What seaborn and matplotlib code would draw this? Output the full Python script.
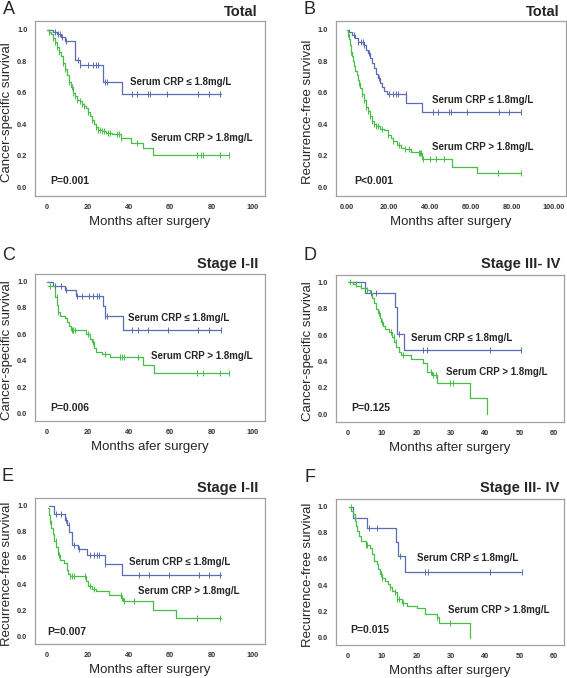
import numpy as np
import pandas as pd
import matplotlib
matplotlib.use('Agg')
import matplotlib.pyplot as plt
import seaborn as sns

# ---- data (step times, survival after the step, censor times)
# A: cancer-specific survival, total
A_low_t = [0, 3, 5, 7, 9, 14, 16, 27.5, 36.5, 84.5]
A_low_s = [1.0, 0.985, 0.97, 0.955, 0.925, 0.81, 0.775, 0.67, 0.59, 0.59]
A_low_c = [4, 5.6, 6.5, 7.3, 9.2, 15.1, 16.2, 20.2, 22.7, 23.8, 24.8, 28.3, 29.2,
           41.3, 43.8, 49.4, 50.2, 58.6, 73.7, 78.6, 84.3]
A_high_t = [0, 1, 2, 3, 4, 5, 6, 7, 8, 9, 10, 11, 12, 13, 14, 15, 16, 17, 18, 19, 20,
            21, 22, 23, 24, 25, 27, 29, 32, 36, 41, 47, 51.5, 88.5]
A_high_s = [1.0, 0.985, 0.97, 0.95, 0.92, 0.89, 0.86, 0.83, 0.79, 0.75, 0.71, 0.67,
            0.635, 0.60, 0.58, 0.555, 0.545, 0.53, 0.515, 0.50, 0.475, 0.45, 0.425,
            0.40, 0.38, 0.365, 0.355, 0.345, 0.335, 0.31, 0.28, 0.25, 0.205, 0.205]
A_high_c = [1, 3, 4, 5, 6, 8, 9, 11, 12.5, 13, 14, 15, 16, 17, 18, 20, 22, 24, 25, 26,
            27, 28, 30, 31, 34, 35, 36, 44, 73, 75, 76, 84, 88.5]

# B: recurrence-free survival, total
B_low_t = [0, 1, 2.5, 4, 5, 8, 9, 10, 11, 12, 13, 14, 15, 16, 17, 18, 19.5, 28.5, 36.5, 84.5]
B_low_s = [1.0, 0.985, 0.965, 0.945, 0.92, 0.90, 0.87, 0.85, 0.82, 0.79, 0.755, 0.72,
           0.69, 0.66, 0.635, 0.61, 0.59, 0.535, 0.475, 0.475]
B_low_c = [3.4, 5.0, 6.6, 7.5, 8.2, 10.7, 15.5, 20.3, 22, 23.6, 24.4, 28.4, 41.4, 43.8,
           49.4, 50.2, 58.3, 73.6, 78.5, 84.2]
B_high_t = [0, 0.5, 1, 1.5, 2, 2.5, 3, 3.5, 4, 4.5, 5, 5.5, 6, 7, 8, 9, 10, 11, 12, 13,
            14, 16, 18, 20, 21, 22, 24, 26, 28, 31, 35, 36.5, 51, 63, 84.5]
B_high_s = [1.0, 0.97, 0.94, 0.90, 0.86, 0.83, 0.80, 0.77, 0.74, 0.71, 0.68, 0.66, 0.63,
            0.59, 0.55, 0.51, 0.48, 0.45, 0.42, 0.40, 0.385, 0.37, 0.36, 0.33, 0.31,
            0.29, 0.27, 0.25, 0.24, 0.225, 0.215, 0.175, 0.13, 0.09, 0.09]
B_high_c = [0.5, 2, 5.5, 7, 8, 9, 10, 11, 12, 13, 14, 15, 17, 20, 22, 25, 28, 30, 35,
            35.5, 36, 37, 40, 43, 47, 73, 84.5]

# C: cancer-specific survival, stage I-II
C_low_t = [0, 3, 9, 14.5, 27.5, 28.5, 37, 84.5]
C_low_s = [1.0, 0.965, 0.935, 0.89, 0.815, 0.74, 0.635, 0.635]
C_low_c = [4, 7, 9.2, 14.9, 17, 20.7, 22.7, 24.3, 25.4, 28.5, 29.2, 41.5, 44.2, 49.4,
           58.8, 73.7, 79, 84.5]
C_high_t = [0.5, 4, 5, 5.5, 6.5, 9, 10, 11, 12, 19, 21, 22, 23, 24, 27, 31, 47, 52, 88.5]
C_high_s = [0.965, 0.88, 0.82, 0.77, 0.74, 0.72, 0.69, 0.66, 0.63, 0.60, 0.565, 0.54,
            0.50, 0.465, 0.45, 0.425, 0.37, 0.31, 0.31]
C_high_c = [1.6, 4.9, 5.6, 12.2, 12.9, 13.8, 20.2, 22.7, 28.3, 35.6, 36.8, 37.7, 44.5,
            72.9, 76.1, 84, 88.3]

# D: cancer-specific survival, stage III-IV
D_low_t = [0.5, 5.1, 13.8, 14.4, 16.4, 50.5]
D_low_s = [1.0, 0.915, 0.815, 0.61, 0.49, 0.49]
D_low_c = [6.7, 8.2, 15, 22, 23.2, 41.4, 50.5]
D_high_t = [0, 1.5, 2.5, 4, 5.5, 6.5, 7.2, 7.8, 8.3, 8.8, 9.3, 9.8, 10.3, 11, 12, 13,
            13.6, 14.2, 14.8, 15.5, 18.5, 22, 23, 24.5, 26, 35.6, 40.5]
D_high_s = [1.0, 0.985, 0.97, 0.955, 0.94, 0.915, 0.88, 0.84, 0.80, 0.765, 0.73, 0.695,
            0.665, 0.645, 0.62, 0.585, 0.55, 0.51, 0.475, 0.445, 0.42, 0.385, 0.32,
            0.295, 0.24, 0.12, 0.0]
D_high_c = [0.6, 2.3, 3.8, 5.7, 9.1, 10.1, 12.5, 13.5, 14, 16, 24.2, 24.9, 25.7, 29.8, 30.7]

# E: recurrence-free survival, stage I-II
E_low_t = [1, 3.5, 9, 10, 11, 12.2, 15.5, 19.5, 28.5, 36.5, 84.5]
E_low_s = [1.0, 0.935, 0.89, 0.855, 0.80, 0.70, 0.665, 0.62, 0.55, 0.473, 0.473]
E_low_c = [4.4, 6.8, 9.2, 10.8, 13.2, 15.7, 21.3, 22.9, 24.6, 25.4, 28.6, 44.7, 49.6,
           59.3, 73.8, 78.7, 84.3]
E_high_t = [0.5, 1, 1.5, 2.2, 3, 3.8, 4.6, 5.4, 6.5, 8.5, 9.8, 10.6, 11.5, 19, 20, 22,
            24, 30.5, 36, 37.3, 51.5, 63, 84.5]
E_high_s = [0.98, 0.93, 0.88, 0.83, 0.78, 0.73, 0.68, 0.625, 0.585, 0.56, 0.51, 0.475,
            0.46, 0.425, 0.385, 0.36, 0.345, 0.32, 0.295, 0.27, 0.205, 0.14, 0.14]
E_high_c = [1.9, 4.4, 6, 11.6, 12.4, 13.2, 18.9, 21.3, 22.9, 35.9, 36.7, 37.5, 42.3,
            73, 84.3]

# F: recurrence-free survival, stage III-IV
F_low_t = [0.5, 1.6, 5.5, 14.1, 14.7, 16.7, 50.5]
F_low_s = [1.0, 0.915, 0.835, 0.73, 0.625, 0.50, 0.50]
F_low_c = [6.2, 8.4, 15.2, 22.4, 23.3, 41.5, 50.7]
F_high_t = [0.5, 1, 1.5, 2, 2.4, 2.8, 3.3, 4, 5.2, 6.5, 7.2, 7.7, 8.4, 8.8, 9.4, 10.1,
            11, 11.7, 12.3, 13, 13.9, 14.4, 15.9, 17.3, 20.2, 22.6, 26, 26.5, 35.7]
F_high_s = [1.0, 0.965, 0.94, 0.89, 0.85, 0.81, 0.775, 0.74, 0.71, 0.685, 0.635, 0.585,
            0.56, 0.52, 0.483, 0.458, 0.432, 0.407, 0.382, 0.356, 0.344, 0.292, 0.267,
            0.241, 0.229, 0.178, 0.153, 0.11, 0.0]
F_high_c = [0.9, 5.2, 5.7, 9.6, 10.1, 12.3, 13.9, 14.4, 14.9, 16, 26, 29.9]

p_values = ['P=0.001', 'P<0.001', 'P=0.006', 'P=0.125', 'P=0.007', 'P=0.015']
letters = ['A', 'B', 'C', 'D', 'E', 'F']
titles = ['Total', 'Total', 'Stage I-II', 'Stage III- IV', 'Stage I-II', 'Stage III- IV']
ylabels = ['Cancer-specific survival', 'Recurrence-free survival',
           'Cancer-specific survival', 'Cancer-specific survival',
           'Recurrence-free survival', 'Recurrence-free survival']
xlabels = ['Months after surgery', 'Months after surgery', 'Months afer surgery',
           'Months after surgery', 'Months after surgery', 'Months after surgery']
lab_low = 'Serum CRP \u2264 1.8mg/L'
lab_high = 'Serum CRP > 1.8mg/L'

BLUE = '#5a6cb2'
GREEN = '#45bf45'
GREY = '#a0a0a0'

sns.set_style('white')
plt.rcParams['font.family'] = ['Liberation Sans', 'DejaVu Sans']

W, H = 567, 678
fig = plt.figure(figsize=(W / 100, H / 100), dpi=100)


def box(l, t, r, b):
    return [l / W, 1 - b / H, (r - l) / W, (b - t) / H]


panels = [
    dict(rect=box(35, 21, 265, 196), xmax=100, xfmt='{:.0f}',
         low=(A_low_t, A_low_s, A_low_c), high=(A_high_t, A_high_s, A_high_c),
         tl=(40.5, 0.67), th=(50.7, 0.31), tp=(1.6, 0.036)),
    dict(rect=box(335.7, 21, 565.7, 196), xmax=100, xfmt='{:.2f}',
         low=(B_low_t, B_low_s, B_low_c), high=(B_high_t, B_high_s, B_high_c),
         tl=(41, 0.553), th=(41, 0.257), tp=(3.2, 0.036)),
    dict(rect=box(35, 274.3, 265, 421), xmax=100, xfmt='{:.0f}',
         low=(C_low_t, C_low_s, C_low_c), high=(C_high_t, C_high_s, C_high_c),
         tl=(39.7, 0.727), th=(50.6, 0.438), tp=(1.6, 0.038)),
    dict(rect=box(335.7, 275, 564, 421.7), xmax=60, xfmt='{:.0f}',
         low=(D_low_t, D_low_s, D_low_c), high=(D_high_t, D_high_s, D_high_c),
         tl=(18.3, 0.579), th=(28.5, 0.32), tp=(1.0, 0.048)),
    dict(rect=box(35, 498.3, 265, 644), xmax=100, xfmt='{:.0f}',
         low=(E_low_t, E_low_s, E_low_c), high=(E_high_t, E_high_s, E_high_c),
         tl=(39.9, 0.567), th=(44.3, 0.344), tp=(0.3, 0.035)),
    dict(rect=box(335.7, 499.3, 564, 645), xmax=60, xfmt='{:.0f}',
         low=(F_low_t, F_low_s, F_low_c), high=(F_high_t, F_high_s, F_high_c),
         tl=(20.3, 0.61), th=(29.3, 0.209), tp=(0.7, 0.056)),
]

letter_px = [(8.5, 9), (309.7, 9), (8.3, 255), (309.7, 255), (7.5, 476.7), (309.7, 477)]
title_px = [(258, 12), (559.7, 12), (258, 264), (560, 264), (258, 487.7), (559, 487.7)]


def censor_y(t, s, c):
    idx = np.searchsorted(np.asarray(t), np.asarray(c), side='right') - 1
    idx = np.clip(idx, 0, len(s) - 1)
    return np.asarray(s)[idx]


for i, p in enumerate(panels):
    ax = fig.add_axes(p['rect'])
    lt, ls, lc = p['low']
    ht, hs, hc = p['high']
    df = pd.concat([
        pd.DataFrame({'t': lt, 's': ls, 'grp': 'low'}),
        pd.DataFrame({'t': ht, 's': hs, 'grp': 'high'}),
    ], ignore_index=True)
    sns.lineplot(data=df, x='t', y='s', hue='grp', palette={'low': BLUE, 'high': GREEN},
                 drawstyle='steps-post', estimator=None, sort=False, legend=False,
                 linewidth=0.9, ax=ax)
    ax.plot(lc, censor_y(lt, ls, lc), ls='none', marker='|', ms=4, mew=0.7, color=BLUE)
    ax.plot(hc, censor_y(ht, hs, hc), ls='none', marker='|', ms=4, mew=0.7, color=GREEN)

    xm = p['xmax']
    if xm == 100:
        ax.set_xlim(-5.6, 106)
        ticks = np.arange(0, 101, 20)
    else:
        ax.set_xlim(-3.5, 63)
        ticks = np.arange(0, 61, 10)
    ax.set_xticks(ticks)
    ax.set_xticklabels([p['xfmt'].format(v) for v in ticks])
    ax.set_ylim(-0.057, 1.055)
    ax.set_yticks(np.arange(0, 1.01, 0.2))
    ax.set_yticklabels(['{:.1f}'.format(v) for v in np.arange(0, 1.01, 0.2)])

    for sp in ax.spines.values():
        sp.set_color(GREY)
        sp.set_linewidth(0.9)
    ax.tick_params(axis='both', direction='out', length=4, width=0.7, color=GREY,
                   pad=2, labelsize=5.3, labelcolor='#333333')
    ax.tick_params(axis='y', pad=1.5)
    for lab in ax.get_xticklabels() + ax.get_yticklabels():
        lab.set_fontweight('bold')

    ax.set_xlabel(xlabels[i], fontsize=9.5, va='center')
    ax.set_ylabel(ylabels[i], fontsize=9.5, va='center')
    hpx = p['rect'][3] * H
    wpx = p['rect'][2] * W
    ax.xaxis.set_label_coords(0.5, -26 / hpx)
    ax.yaxis.set_label_coords(-27.5 / wpx, 0.48)

    ax.text(*p['tl'], lab_low, fontsize=7, fontweight='bold', va='center', ha='left')
    ax.text(*p['th'], lab_high, fontsize=7, fontweight='bold', va='center', ha='left')
    ax.text(*p['tp'], p_values[i], fontsize=7.5, fontweight='bold', va='center', ha='left')

    lx, ly = letter_px[i]
    fig.text(lx / W, 1 - ly / H, letters[i], fontsize=13, ha='center', va='center')
    tx, ty = title_px[i]
    fig.text(tx / W, 1 - ty / H, titles[i], fontsize=10.5, fontweight='bold',
             ha='right', va='center')

fig.savefig('out.png', dpi=100)
